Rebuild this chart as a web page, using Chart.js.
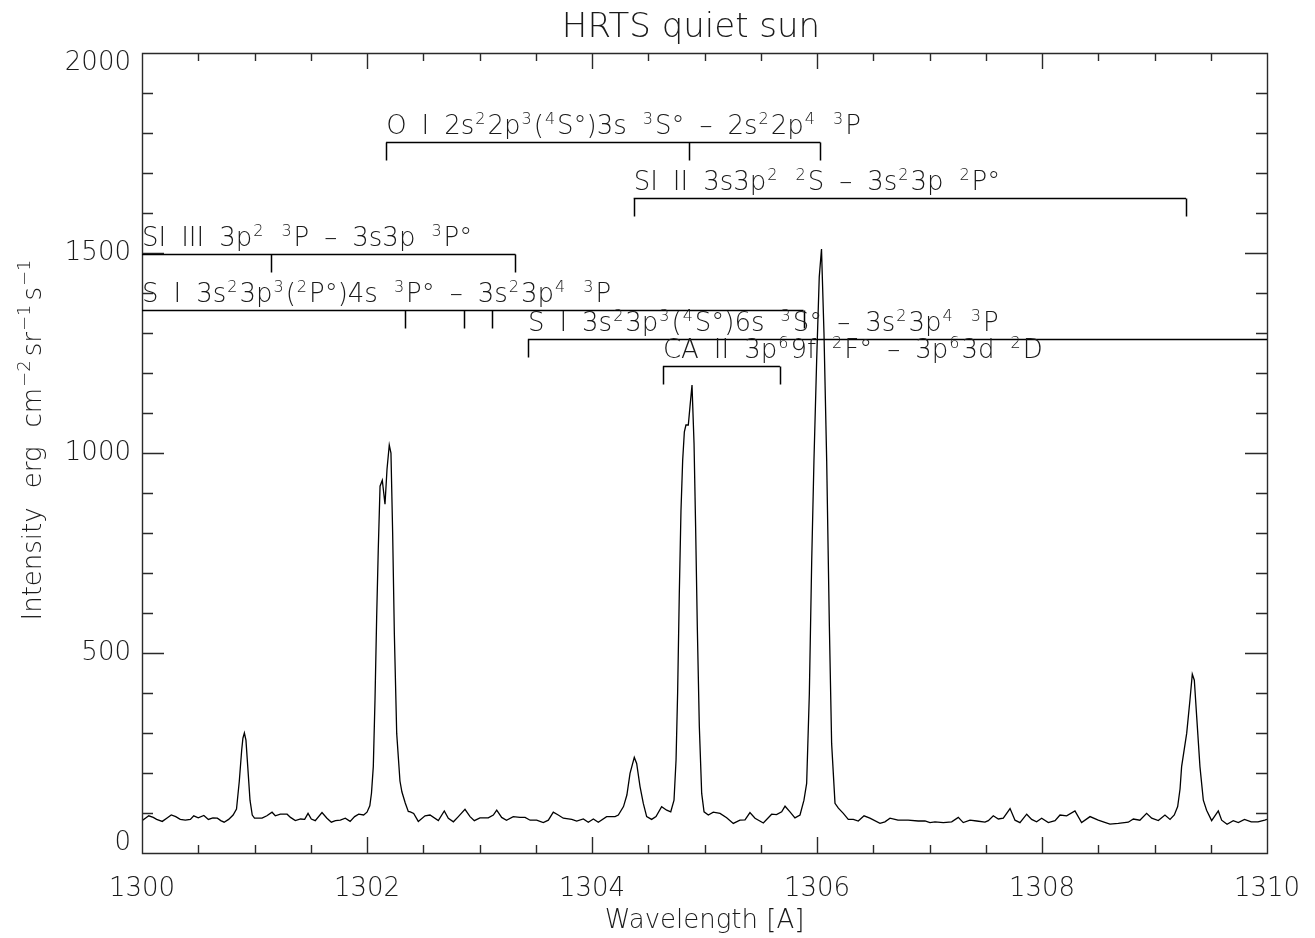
<!DOCTYPE html>
<html><head><meta charset="utf-8">
<script src="https://cdn.jsdelivr.net/npm/chart.js@4.4.1/dist/chart.umd.min.js"></script>
<style>html,body{margin:0;padding:0;background:#fff;}canvas{display:block;}</style>
</head><body>
<canvas id="c" width="1315" height="938"></canvas>
<script>
const chartTitle = 'HRTS quiet sun';
const xAxisTitle = 'Wavelength [A]';
// ^{..} marks a superscript
const yAxisTitle = 'Intensity erg cm^{−2}sr^{−1}s^{−1}';
const xTicks = [1300, 1302, 1304, 1306, 1308, 1310];
const yTicks = [0, 500, 1000, 1500, 2000];

const wavelength = [
1300.00,1300.03,1300.06,1300.10,1300.13,1300.18,1300.22,1300.26,1300.30,1300.34,
1300.385,1300.43,1300.46,1300.50,1300.55,1300.59,1300.63,1300.67,1300.70,1300.73,
1300.77,1300.81,1300.84,1300.865,1300.886,1300.897,1300.91,1300.924,1300.94,1300.96,
1300.98,1301.00,1301.03,1301.067,1301.11,1301.156,1301.185,1301.23,1301.29,1301.32,
1301.363,1301.41,1301.446,1301.476,1301.505,1301.54,1301.60,1301.644,1301.683,1301.72,
1301.763,1301.807,1301.85,1301.89,1301.926,1301.97,1302.00,1302.025,1302.04,1302.056,
1302.071,1302.086,1302.10,1302.116,1302.136,1302.16,1302.178,1302.198,1302.213,1302.228,
1302.243,1302.264,1302.293,1302.31,1302.34,1302.367,1302.385,1302.415,1302.456,1302.516,
1302.56,1302.634,1302.687,1302.723,1302.768,1302.812,1302.871,1302.916,1302.954,1303.004,
1303.078,1303.123,1303.153,1303.197,1303.24,1303.30,1303.36,1303.405,1303.45,1303.508,
1303.567,1303.612,1303.656,1303.70,1303.745,1303.82,1303.864,1303.923,1303.967,1304.012,
1304.056,1304.13,1304.205,1304.234,1304.28,1304.31,1304.338,1304.376,1304.397,1304.427,
1304.456,1304.486,1304.53,1304.569,1304.619,1304.664,1304.70,1304.729,1304.747,1304.761,
1304.776,1304.791,1304.806,1304.821,1304.835,1304.856,1304.871,1304.889,1304.907,1304.921,
1304.936,1304.954,1304.975,1304.996,1305.034,1305.078,1305.138,1305.197,1305.256,1305.315,
1305.36,1305.404,1305.449,1305.523,1305.597,1305.64,1305.686,1305.716,1305.76,1305.804,
1305.849,1305.884,1305.908,1305.932,1305.953,1305.973,1305.997,1306.02,1306.04,1306.062,
1306.086,1306.11,1306.13,1306.16,1306.19,1306.234,1306.278,1306.323,1306.367,1306.418,
1306.47,1306.56,1306.604,1306.649,1306.72,1306.81,1306.90,1306.96,1307.004,1307.049,
1307.123,1307.197,1307.256,1307.30,1307.36,1307.42,1307.493,1307.523,1307.567,1307.612,
1307.656,1307.716,1307.76,1307.804,1307.864,1307.908,1307.952,1307.997,1308.056,1308.116,
1308.16,1308.219,1308.293,1308.352,1308.427,1308.50,1308.545,1308.604,1308.678,1308.767,
1308.812,1308.87,1308.93,1308.975,1309.034,1309.093,1309.138,1309.176,1309.206,1309.227,
1309.241,1309.286,1309.315,1309.336,1309.354,1309.375,1309.404,1309.434,1309.463,1309.508,
1309.567,1309.597,1309.645,1309.70,1309.745,1309.80,1309.86,1309.92,1309.98,1310.00
];
const intensity = [
81,87,93,89,84,79,87,95,91,84,
82,84,93,88,94,84,88,87,81,77,
84,95,110,180,257,287,300,282,216,132,
95,87,87,87,93,102,93,97,97,89,
81,85,84,99,85,81,101,87,77,81,
82,87,79,91,97,95,102,118,150,216,
382,591,757,917,932,872,960,1020,1000,800,
549,299,180,153,125,104,103,99,79,93,
95,81,105,87,78,91,109,91,81,88,
88,95,107,89,82,91,89,89,82,82,
76,82,102,95,87,84,80,85,77,85,
77,91,91,95,116,145,199,239,224,166,
124,91,84,91,116,107,103,132,232,399,
649,857,982,1053,1070,1070,1116,1170,1024,816,
566,316,149,103,95,102,99,88,74,82,
83,101,87,75,97,96,103,117,103,88,
95,132,174,399,732,982,1232,1440,1510,1300,
982,566,274,124,112,99,84,84,80,93,
87,74,78,87,82,82,80,80,76,78,
76,78,89,76,82,80,77,81,93,85,
87,111,82,76,97,84,78,87,76,81,
95,93,105,76,91,82,78,72,74,77,
85,82,99,87,81,95,84,95,116,160,
216,299,382,447,432,341,216,132,107,81,
105,82,72,81,76,84,78,78,82,84
];

// Line identifications: label text (^x = superscript), rest wavelengths (A), bracket level (intensity units)
const lineIds = [
  'O I 2s^22p^3(^4S°)3s ^3S° – 2s^22p^4 ^3P',
  'SI II 3s3p^2 ^2S – 3s^23p ^2P°',
  'SI III 3p^2 ^3P – 3s3p ^3P°',
  'S I 3s^23p^3(^2P°)4s ^3P° – 3s^23p^4 ^3P',
  'S I 3s^23p^3(^4S°)6s ^3S° – 3s^23p^4 ^3P',
  'CA II 3p^69f ^2F° – 3p^63d ^2D'
];
const lineWavelengths = [
  [1302.17, 1304.86, 1306.03],
  [1304.37, 1309.28],
  [1298.96, 1301.15, 1303.32],
  [1296.17, 1302.34, 1302.86, 1303.11, 1305.88],
  [1303.43, 1310.20],
  [1304.63, 1305.67]
];
const lineLevels = [1778, 1638, 1498, 1358, 1285, 1217];

const FAMILY = "'DejaVu Sans', sans-serif";
const WEIGHT = 200;
const INK = '#1a1a1a';

function tokens(text) {
  const out = [];
  let i = 0, run = '';
  const flush = () => { if (run) { out.push({t: 'n', s: run}); run = ''; } };
  while (i < text.length) {
    const ch = text[i];
    if (ch === '^') {
      flush();
      if (text[i + 1] === '{') {
        const j = text.indexOf('}', i);
        out.push({t: 's', s: text.slice(i + 2, j)}); i = j + 1;
      } else { out.push({t: 's', s: text[i + 1]}); i += 2; }
    } else if (ch === ' ') { flush(); out.push({t: 'sp'}); i++; }
    else { run += ch; i++; }
  }
  flush();
  return out;
}
function richText(ctx, text, x, y, draw, st) {
  let cx = x;
  for (const tk of tokens(text)) {
    if (tk.t === 'sp') { cx += st.space; continue; }
    if (tk.t === 'n') {
      ctx.font = `${WEIGHT} ${st.base}px ${FAMILY}`;
      if (draw) ctx.fillText(tk.s, cx, y);
      cx += ctx.measureText(tk.s).width;
    } else {
      ctx.font = `${WEIGHT} ${st.sup}px ${FAMILY}`;
      if (draw) ctx.fillText(tk.s, cx + 1, y - st.raise);
      cx += ctx.measureText(tk.s).width + st.gap;
    }
  }
  return cx - x;
}
const labelStyle = {base: 26, sup: 16, raise: 10, space: 15, gap: 3};
const yTitleStyle = {base: 26, sup: 18, raise: 11, space: 19, gap: 5};

const framePlugin = {
  id: 'idlFrame',
  afterDatasetsDraw(chart) {
    const {ctx, chartArea: a, scales: {x, y}} = chart;
    ctx.save();
    ctx.strokeStyle = '#2a2a2a';
    ctx.lineWidth = 1.4;
    ctx.beginPath();
    ctx.rect(a.left + 0.5, a.top + 0.5, a.right - a.left, a.bottom - a.top);
    for (let i = 0; i < xTicks.length; i++) {
      const n = (i < xTicks.length - 1) ? 4 : 1;
      for (let j = 0; j < n; j++) {
        const v = (i < xTicks.length - 1) ? xTicks[i] + (xTicks[i + 1] - xTicks[i]) * j / n : xTicks[i];
        const len = j === 0 ? 16 : 8;
        const px = Math.round(x.getPixelForValue(v)) + 0.5;
        ctx.moveTo(px, a.bottom); ctx.lineTo(px, a.bottom - len);
        ctx.moveTo(px, a.top); ctx.lineTo(px, a.top + len);
      }
    }
    for (let i = 0; i < yTicks.length; i++) {
      const n = (i < yTicks.length - 1) ? 5 : 1;
      for (let j = 0; j < n; j++) {
        const v = (i < yTicks.length - 1) ? yTicks[i] + (yTicks[i + 1] - yTicks[i]) * j / n : yTicks[i];
        const len = j === 0 ? 22 : 11;
        const py = Math.round(y.getPixelForValue(v)) + 0.5;
        ctx.moveTo(a.left, py); ctx.lineTo(a.left + len, py);
        ctx.moveTo(a.right, py); ctx.lineTo(a.right - len, py);
      }
    }
    ctx.stroke();

    // line identification brackets
    ctx.save();
    ctx.beginPath();
    ctx.rect(a.left, a.top, a.right - a.left, a.bottom - a.top);
    ctx.clip();
    ctx.strokeStyle = '#000';
    ctx.lineWidth = 1.5;
    ctx.fillStyle = INK;
    ctx.textAlign = 'left';
    ctx.textBaseline = 'alphabetic';
    lineIds.forEach((label, i) => {
      const xs = lineWavelengths[i].map(w => x.getPixelForValue(w));
      const py = Math.round(y.getPixelForValue(lineLevels[i])) + 0.5;
      const x0 = Math.max(Math.min(...xs), a.left);
      const x1 = Math.min(Math.max(...xs), a.right);
      ctx.beginPath();
      ctx.moveTo(x0, py); ctx.lineTo(x1, py);
      xs.forEach(px => {
        if (px >= a.left && px <= a.right) {
          const rx = Math.round(px) + 0.5;
          ctx.moveTo(rx, py); ctx.lineTo(rx, py + 18);
        }
      });
      ctx.stroke();
      richText(ctx, label, x0, py - 9, true, labelStyle);
    });
    ctx.restore();

    // title
    ctx.fillStyle = INK;
    ctx.font = `${WEIGHT} 34px ${FAMILY}`;
    ctx.textAlign = 'center';
    ctx.textBaseline = 'alphabetic';
    ctx.fillText(chartTitle, 691, 37);

    // y-axis title (rotated)
    ctx.textAlign = 'left';
    const w = richText(ctx, yAxisTitle, 0, 0, false, yTitleStyle);
    const cy = (a.top + a.bottom) / 2 - 15;
    ctx.translate(41, cy + w / 2);
    ctx.rotate(-Math.PI / 2);
    richText(ctx, yAxisTitle, 0, 0, true, yTitleStyle);
    ctx.restore();
  }
};

const tickFont = {family: FAMILY, size: 26, weight: WEIGHT};

new Chart(document.getElementById('c'), {
  type: 'scatter',
  data: {
    datasets: [{
      data: wavelength.map((w, i) => ({x: w, y: intensity[i]})),
      showLine: true,
      borderColor: '#000',
      borderWidth: 1.3,
      pointRadius: 0,
      tension: 0,
      fill: false
    }]
  },
  options: {
    responsive: false,
    animation: false,
    devicePixelRatio: 1,
    layout: {padding: {left: 0, right: 48, top: 53, bottom: 0}},
    plugins: {legend: {display: false}, tooltip: {enabled: false}, title: {display: false}},
    scales: {
      x: {
        type: 'linear', min: 1300, max: 1310,
        afterBuildTicks: s => { s.ticks = xTicks.map(v => ({value: v})); },
        afterFit: s => { s.height = 85; s.paddingLeft = 0; s.paddingRight = 0; },
        grid: {display: false, drawTicks: false},
        border: {display: false},
        ticks: {font: tickFont, color: INK, padding: 21, maxRotation: 0, autoSkip: false,
                callback: v => String(v)},
        title: {display: true, text: xAxisTitle, font: tickFont, color: INK, padding: {top: 0, bottom: 1}}
      },
      y: {
        type: 'linear', min: 0, max: 2000,
        afterBuildTicks: s => { s.ticks = yTicks.map(v => ({value: v})); },
        afterFit: s => { s.width = 142; },
        grid: {display: false, drawTicks: false},
        border: {display: false},
        ticks: {font: {family: FAMILY, size: 26, weight: WEIGHT, lineHeight: '20px'}, color: INK, padding: 11, autoSkip: false,
                callback: v => v === yTicks[0] ? [String(v), ''] : (v === yTicks[yTicks.length - 1] ? ['', String(v)] : String(v))},
        title: {display: false}
      }
    }
  },
  plugins: [framePlugin]
});
</script>
</body></html>
